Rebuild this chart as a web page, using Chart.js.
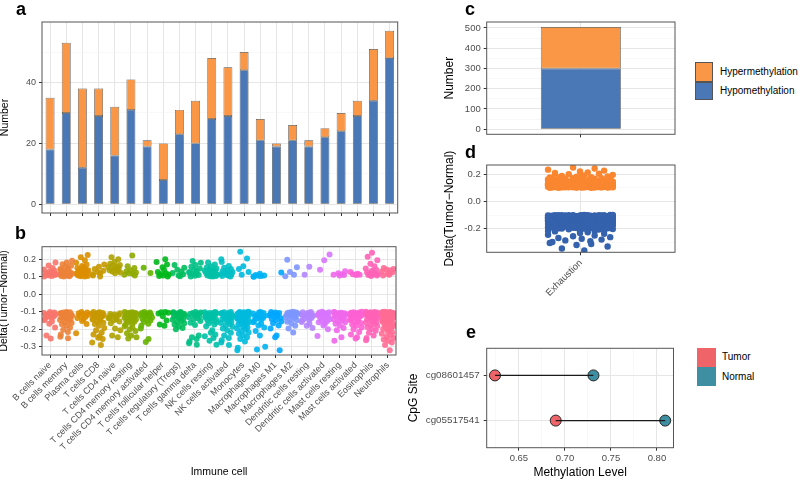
<!DOCTYPE html>
<html>
<head>
<meta charset="utf-8">
<script src="https://cdn.jsdelivr.net/npm/chart.js@4.4.1/dist/chart.umd.min.js"></script>
<style>
  body { margin: 0; background: #fff; font-family: 'Liberation Sans', Arial, sans-serif; }
  #wrap { position: relative; width: 800px; height: 480px; overflow: hidden; }
  canvas { position: absolute; }
  .lab { position: absolute; font-weight: bold; font-size: 18px; line-height: 18px; color: #000; }
  .key { position: absolute; box-sizing: border-box; }
  .kt { position: absolute; font-size: 10px; line-height: 12px; color: #000; white-space: nowrap; }
</style>
</head>
<body>
<div id="wrap">
  <canvas id="ca" width="402" height="216" style="left:-2px;top:0"></canvas>
  <canvas id="cb" width="402" height="240" style="left:-2px;top:240px"></canvas>
  <canvas id="cc" width="240" height="140" style="left:440px;top:0"></canvas>
  <canvas id="cd" width="240" height="170" style="left:440px;top:140px"></canvas>
  <canvas id="ce" width="280" height="170" style="left:400px;top:310px"></canvas>

  <div class="lab" style="left:16px;top:0">a</div>
  <div class="lab" style="left:15px;top:224px">b</div>
  <div class="lab" style="left:465px;top:0">c</div>
  <div class="lab" style="left:465px;top:143px">d</div>
  <div class="lab" style="left:466px;top:323px">e</div>

  <div class="key" style="left:695px;top:62px;width:18px;height:19.5px;background:#fa9746;border:0.5px solid #555"></div>
  <div class="key" style="left:695px;top:81.5px;width:18px;height:18.5px;background:#4a77b6;border:0.5px solid #555"></div>
  <div class="kt" style="left:720px;top:66px">Hypermethylation</div>
  <div class="kt" style="left:720px;top:84.7px">Hypomethylation</div>

  <div class="key" style="left:697px;top:348px;width:19px;height:19px;background:#ee6468"></div>
  <div class="key" style="left:697px;top:367px;width:19px;height:19px;background:#3d8fa1"></div>
  <div class="kt" style="left:722px;top:351.3px">Tumor</div>
  <div class="kt" style="left:722px;top:370.7px">Normal</div>
</div>

<script>
// ---- data ----
const cells = ['B cells naive', 'B cells memory', 'Plasma cells', 'T cells CD8', 'T cells CD4 naive',
  'T cells CD4 memory resting', 'T cells CD4 memory activated', 'T cells follicular helper',
  'T cells regulatory (Tregs)', 'T cells gamma delta', 'NK cells resting', 'NK cells activated',
  'Monocytes', 'Macrophages M0', 'Macrophages M1', 'Macrophages M2', 'Dendritic cells resting',
  'Dendritic cells activated', 'Mast cells resting', 'Mast cells activated', 'Eosinophils', 'Neutrophils'];
const hypoCount  = [18, 30, 12, 29, 16, 31, 19,  8, 23, 20, 28, 29, 44, 21, 19, 21, 19, 22, 24, 29, 34, 48];
const hyperCount = [17, 23, 26,  9, 16, 10,  2, 12,  8, 14, 20, 16,  6,  7,  1,  5,  2,  3,  6,  5, 17,  9];

// panel b: delta values (x1000), hyper are positive, hypo are negative
const bHyper = [
  [102,105,108,110,112,114,116,118,121,124,127,131,135,142,150,165,182],
  [101,103,105,107,109,111,113,115,117,119,122,125,128,131,135,139,144,150,156,163,172,182,192],
  [101,103,105,107,109,111,113,115,117,119,121,124,127,130,133,137,141,145,150,156,162,170,180,195,212,225],
  [102,108,114,120,127,135,145,158,170],
  [120,125,130,134,138,142,146,150,154,158,163,168,175,185,200,212],
  [108,112,116,120,125,130,137,150,160,222],
  [122,152],
  [102,105,108,111,115,120,128,140,155,170,185,200],
  [103,108,114,122,130,140,152,168],
  [102,106,110,114,118,122,127,133,140,148,158,168,180,190],
  [101,103,105,108,110,112,115,118,121,124,127,130,134,138,142,147,153,160,170,182],
  [101,104,107,110,113,116,120,124,128,133,138,145,152,162,185,200],
  [112,128,145,160,205,243],
  [100,102,104,106,108,110,118],
  [125],
  [103,112,128,155,198],
  [112,158],
  [140,195,228],
  [108,110,112,115,120,132],
  [110,112,115,118,128],
  [105,108,110,112,114,117,120,124,128,133,140,148,160,175,195,215,238],
  [108,112,118,124,130,136,142,145,150]
];
const bHypo = [
  [101,104,107,110,113,116,119,122,126,130,135,141,148,156,168,190,235,252],
  [101,102,104,106,108,110,112,114,116,118,120,123,126,129,132,135,139,143,147,152,158,164,171,180,190,202,215,230,242,251],
  [101,104,108,112,117,122,128,135,143,152,170,222],
  [101,103,105,107,110,112,115,118,121,124,127,131,135,139,144,149,155,162,170,180,192,205,218,230,240,248,255,275,290],
  [108,112,116,120,124,128,132,137,142,148,155,165,195,205,235,245],
  [101,103,105,107,109,111,113,115,118,121,124,127,130,133,136,140,144,148,152,157,162,168,175,182,190,200,210,222,235,245,252],
  [101,104,107,110,113,116,120,124,128,133,138,144,150,158,168,180,195,255,272],
  [101,103,106,110,125,150,172,180],
  [101,103,105,107,109,111,113,115,118,121,124,128,132,136,141,146,152,158,165,172,182,192,200],
  [101,104,107,110,113,117,121,126,131,137,144,152,162,175,235,245,255,270,280,288],
  [101,103,105,107,109,112,115,118,121,124,127,131,135,139,143,148,153,158,165,172,182,205,220,230,240,250,265,288],
  [101,103,105,107,110,113,116,119,122,126,130,134,138,143,148,153,158,164,170,178,186,195,205,220,235,250,262,275,290],
  [100,101,102,103,105,106,108,110,112,114,116,118,120,122,124,126,128,131,134,137,140,143,146,149,152,156,160,164,168,173,178,184,190,196,203,210,218,226,235,245,255,270,305,320],
  [101,104,107,110,114,118,122,126,130,135,140,146,152,160,168,178,190,210,235,300,315],
  [101,104,107,110,113,117,121,125,130,135,141,148,156,165,178,195,235,245,320],
  [100,102,104,106,108,110,112,114,117,120,123,127,131,136,142,149,157,167,180,195,218],
  [101,103,106,109,112,115,118,121,124,127,131,135,140,145,150,158,168,180,192],
  [100,102,104,106,108,110,113,116,119,122,125,129,133,137,142,148,154,160,168,178,200,238],
  [101,103,105,107,109,111,114,117,120,123,126,130,134,138,143,148,154,160,168,178,192,205,245,265],
  [100,102,104,106,108,110,112,114,116,118,121,124,127,130,134,138,142,147,152,158,164,172,180,190,200,215,230,245,252],
  [100,101,102,104,105,107,109,111,113,115,117,119,121,124,127,130,133,136,140,144,148,152,157,162,168,174,181,189,198,208,220,235,250,262],
  [100,101,102,103,104,105,106,108,110,111,113,115,117,119,121,123,125,127,130,133,136,139,142,145,148,151,155,159,163,167,171,176,181,186,192,198,204,211,218,226,234,242,250,258,266,275,290,320]
];

// panel c
const groupName = ['Exhaustion'];
const groupHypo = [300];
const groupHyper = [204];

// panel d: delta values (x1000) for the Exhaustion group
const dHyper = [
  100,100,101,101,102,102,103,103,104,104,105,105,106,106,107,107,108,108,109,109,
  110,110,111,111,112,112,113,113,114,114,115,115,116,116,117,117,118,118,119,119,
  100,101,102,103,104,105,106,107,108,109,110,111,112,113,114,115,116,117,118,119,
  101,103,105,107,109,111,113,115,117,119,121,123,125,127,129,131,133,135,137,139,
  120,121,122,123,124,125,126,127,128,129,130,131,132,133,134,135,136,137,138,139,
  120,122,124,126,128,130,132,134,136,138,140,142,144,146,148,150,152,154,156,158,
  141,143,145,147,149,151,153,155,157,159,161,163,165,167,169,140,145,150,155,160,
  102,104,106,108,112,114,116,118,122,124,126,128,132,134,136,138,142,144,146,148,
  103,107,111,115,119,123,127,131,135,139,143,147,151,155,160,165,170,172,175,178,
  162,166,168,171,174,177,180,183,186,190,194,198,202,207,212,218,225,232,240,248,
  105,115,125,135
];
const dHypo = [
  100,100,101,101,102,102,103,103,104,104,105,105,106,106,107,107,108,108,109,109,
  110,110,111,111,112,112,113,113,114,114,115,115,116,116,117,117,118,118,119,119,
  120,120,121,121,122,122,123,123,124,124,125,125,126,126,127,127,128,128,129,129,
  130,130,131,131,132,132,133,133,134,134,135,135,136,136,137,137,138,138,139,139,
  100,101,102,103,104,105,106,107,108,109,110,111,112,113,114,115,116,117,118,119,
  120,121,122,123,124,125,126,127,128,129,130,131,132,133,134,135,136,137,138,139,
  140,141,142,143,144,145,146,147,148,149,150,151,152,153,154,155,156,157,158,159,
  140,142,144,146,148,150,152,154,156,158,160,162,164,166,168,170,172,174,176,178,
  101,103,105,107,109,111,113,115,117,119,121,123,125,127,129,131,133,135,137,139,
  141,143,145,147,149,151,153,155,157,159,161,163,165,167,169,171,173,175,177,179,
  160,161,163,165,167,169,171,173,175,177,180,182,184,186,188,190,192,194,196,198,
  181,183,185,187,189,191,193,195,197,199,200,202,204,206,208,210,212,214,216,218,
  102,106,110,114,118,122,126,130,134,138,142,146,150,154,158,162,166,170,174,178,
  104,108,112,116,120,124,128,132,136,140,144,148,152,156,160,164,168,172,176,180,
  220,226,232,238,244,250,256,262,268,274,280,286,292,298,305,312,320,330,345,360
];

// panel e
const sites = ['cg05517541', 'cg08601457'];
const tumorLevel = [0.690, 0.624];
const normalLevel = [0.809, 0.731];

// tick values
const aMajor = [0, 20, 40], aMinor = [10, 30, 50];
const bMajor = [-0.3, -0.2, -0.1, 0, 0.1, 0.2], bMinor = [-0.25, -0.15, -0.05, 0.05, 0.15, 0.25];
const cMajor = [0, 100, 200, 300, 400, 500], cMinor = [50, 150, 250, 350, 450];
const dMajor = [-0.2, 0, 0.2], dMinor = [-0.3, -0.1, 0.1];
const eMajor = [0.65, 0.70, 0.75, 0.80], eMinor = [0.625, 0.675, 0.725, 0.775];

// jitter offsets (category units)
const jitter = [-0.36, 0.12, -0.05, 0.31, -0.22, 0.04, 0.37, -0.14, 0.21, -0.30, 0.08, -0.01,
  0.27, -0.38, 0.16, -0.09, 0.34, -0.26, 0.01, 0.24, -0.18, 0.11, -0.33];

// ---- style ----
const HYPER = '#fa9746', HYPO = '#4a77b6';
const D_HYPER = '#fa8630', D_HYPO = '#3562ac';
const TUMOR = '#ee6468', NORMAL = '#3d8fa1';
const MAJOR_GRID = '#e6e6e6', MINOR_GRID = '#f3f3f3', TICK = '#333333';

Chart.defaults.font.family = "'Liberation Sans', Arial, sans-serif";
Chart.defaults.color = '#4d4d4d';
Chart.defaults.animation = false;

// ggplot hue palette (polar LUV)
function hcl(h, c, l) {
  const hr = h * Math.PI / 180;
  const u = c * Math.cos(hr), v = c * Math.sin(hr);
  const Y = Math.pow((l + 16) / 116, 3);
  const xn = 0.95047, yn = 1, zn = 1.08883;
  const den = xn + 15 * yn + 3 * zn;
  const up = u / (13 * l) + 4 * xn / den, vp = v / (13 * l) + 9 * yn / den;
  const X = Y * 9 * up / (4 * vp), Z = Y * (12 - 3 * up - 20 * vp) / (4 * vp);
  const lin = [3.2404542 * X - 1.5371385 * Y - 0.4985314 * Z,
              -0.9692660 * X + 1.8760108 * Y + 0.0415560 * Z,
               0.0556434 * X - 0.2040259 * Y + 1.0572252 * Z];
  const rgb = lin.map(x => {
    x = Math.max(0, Math.min(1, x));
    return Math.round(255 * (x <= 0.0031308 ? 12.92 * x : 1.055 * Math.pow(x, 1 / 2.4) - 0.055));
  });
  return 'rgba(' + rgb.join(',') + ',0.9)';
}
const hues = cells.map((_, i) => hcl(15 + i * 360 / cells.length, 100, 65));

const panelBox = {
  id: 'panelBox',
  afterDraw(chart) {
    const { ctx, chartArea: a } = chart;
    ctx.save();
    ctx.strokeStyle = '#555555';
    ctx.lineWidth = 1;
    ctx.strokeRect(a.left, a.top, a.right - a.left, a.bottom - a.top);
    ctx.restore();
  }
};

function title(text, size, pad) {
  return { display: true, text: text, color: '#000', font: { size: size }, padding: pad };
}

function valueAxis(o) {
  const isMinor = v => !o.major.some(m => Math.abs(m - v) < 1e-9);
  return {
    type: 'linear', position: o.position, min: o.min, max: o.max,
    afterBuildTicks: s => { s.ticks = o.major.concat(o.minor).sort((p, q) => p - q).map(v => ({ value: v })); },
    afterFit: s => {
      if (o.width) s.width = o.width;
      if (o.height) s.height = o.height;
      s.paddingLeft = s.paddingRight = s.paddingTop = s.paddingBottom = 0;
    },
    ticks: { autoSkip: false, padding: o.pad || 3, font: { size: o.size || 9 }, color: '#4d4d4d',
      maxRotation: 0, callback: v => isMinor(v) ? '' : o.fmt(v) },
    grid: {
      color: c => c.tick && isMinor(c.tick.value) ? MINOR_GRID : MAJOR_GRID,
      lineWidth: c => c.tick && isMinor(c.tick.value) ? 0.6 : 1,
      tickColor: c => c.tick && isMinor(c.tick.value) ? 'rgba(0,0,0,0)' : TICK,
      tickLength: 3, tickWidth: 1
    },
    border: { display: false },
    title: o.title
  };
}

function catTicksAxis(o) {
  return {
    type: 'linear', position: 'bottom', min: o.min, max: o.max,
    afterBuildTicks: s => { s.ticks = o.names.map((_, i) => ({ value: i + 1 })); },
    afterFit: s => { s.height = o.height; s.paddingLeft = s.paddingRight = 0; },
    ticks: { autoSkip: false, padding: 2, font: { size: o.size || 9 }, color: '#4d4d4d',
      minRotation: 45, maxRotation: 45, callback: v => o.names[Math.round(v) - 1] },
    grid: { color: MAJOR_GRID, tickColor: TICK, tickLength: 3, tickWidth: 1 },
    border: { display: false },
    title: o.title
  };
}

const fmt1 = v => (v < 0 ? '-' : '') + Math.abs(v).toFixed(1);

// ---- panel a ----
new Chart(document.getElementById('ca'), {
  type: 'bar',
  data: {
    labels: cells,
    datasets: [
      { label: 'Hypomethylation', data: hypoCount, backgroundColor: HYPO },
      { label: 'Hypermethylation', data: hyperCount, backgroundColor: HYPER }
    ].map(d => Object.assign(d, { borderColor: 'rgba(45,45,45,0.85)', borderWidth: 0.7, borderSkipped: false,
      categoryPercentage: 1, barPercentage: 0.55 }))
  },
  options: {
    responsive: false,
    layout: { padding: { left: 0, right: 2.3, top: 22, bottom: 0 } },
    plugins: { legend: { display: false }, tooltip: { enabled: false } },
    scales: {
      x: { type: 'category', stacked: true, offset: true,
        afterFit: s => { s.height = 3; s.paddingLeft = s.paddingRight = 0; },
        ticks: { display: false },
        grid: { offset: false, color: MAJOR_GRID, tickColor: TICK, tickLength: 3 },
        border: { display: false } },
      y: Object.assign(valueAxis({ position: 'left', min: -2.85, max: 59.85, major: aMajor, minor: aMinor,
        fmt: v => String(v), width: 44, title: title('Number', 10.5, { top: 1, bottom: 0 }) }), { stacked: true })
    }
  },
  plugins: [panelBox]
});

// ---- panel b ----
const bSets = cells.map((name, i) => {
  const pts = [];
  bHyper[i].forEach((v, k) => pts.push({ x: i + 1 + jitter[(k + 7 * i) % jitter.length], y: v / 1000 }));
  bHypo[i].forEach((v, k) => pts.push({ x: i + 1 + jitter[(k + 7 * i + 11) % jitter.length], y: -v / 1000 }));
  return { label: name, data: pts, backgroundColor: hues[i], borderWidth: 0, pointRadius: 3 };
});
new Chart(document.getElementById('cb'), {
  type: 'scatter',
  data: { datasets: bSets },
  options: {
    responsive: false,
    layout: { padding: { left: 0, right: 2.3, top: 6.7, bottom: 0 } },
    plugins: { legend: { display: false }, tooltip: { enabled: false } },
    scales: {
      x: catTicksAxis({ min: 0.5, max: 22.5, names: cells, height: 125,
        title: title('Immune cell', 10.5, { top: 0, bottom: 1.7 }) }),
      y: valueAxis({ position: 'left', min: -0.347, max: 0.272, major: bMajor, minor: bMinor,
        fmt: fmt1, width: 44, title: title('Delta(Tumor\u2212Normal)', 10.5, { top: 0, bottom: 0 }) })
    }
  },
  plugins: [panelBox]
});

// ---- panel c ----
new Chart(document.getElementById('cc'), {
  type: 'bar',
  data: {
    labels: groupName,
    datasets: [
      { label: 'Hypomethylation', data: groupHypo, backgroundColor: HYPO },
      { label: 'Hypermethylation', data: groupHyper, backgroundColor: HYPER }
    ].map(d => Object.assign(d, { borderColor: 'rgba(45,45,45,0.85)', borderWidth: 0.7, borderSkipped: false,
      categoryPercentage: 1, barPercentage: 0.425 }))
  },
  options: {
    responsive: false,
    layout: { padding: { left: 0, right: 5, top: 22, bottom: 0 } },
    plugins: { legend: { display: false }, tooltip: { enabled: false } },
    scales: {
      x: { type: 'category', stacked: true, offset: true,
        afterFit: s => { s.height = 5.7; s.paddingLeft = s.paddingRight = 0; },
        ticks: { display: false },
        grid: { offset: false, color: MAJOR_GRID, tickColor: TICK, tickLength: 3 },
        border: { display: false } },
      y: Object.assign(valueAxis({ position: 'left', min: -25.2, max: 529.2, major: cMajor, minor: cMinor,
        fmt: v => String(v), width: 46.7, size: 9.5, title: title('Number', 12, { top: 2.5, bottom: 0 }) }), { stacked: true })
    }
  },
  plugins: [panelBox]
});

// ---- panel d ----
const dSpread = 0.55;
new Chart(document.getElementById('cd'), {
  type: 'scatter',
  data: {
    datasets: [
      { label: 'Hypermethylation', backgroundColor: D_HYPER,
        data: dHyper.map((v, k) => ({ x: 1 + dSpread * jitter[k % jitter.length], y: v / 1000 })) },
      { label: 'Hypomethylation', backgroundColor: D_HYPO,
        data: dHypo.map((v, k) => ({ x: 1 + dSpread * jitter[(k + 5) % jitter.length], y: -v / 1000 })) }
    ].map(d => Object.assign(d, { pointRadius: 3.2, borderWidth: 0 }))
  },
  options: {
    responsive: false,
    layout: { padding: { left: 0, right: 5, top: 25, bottom: 0 } },
    plugins: { legend: { display: false }, tooltip: { enabled: false } },
    scales: {
      x: catTicksAxis({ min: 0.4, max: 1.6, names: groupName, height: 57.7, size: 9.5 }),
      y: valueAxis({ position: 'left', min: -0.373, max: 0.266, major: dMajor, minor: dMinor,
        fmt: fmt1, width: 46.7, size: 9.5, title: title('Delta(Tumor\u2212Normal)', 12, { top: 2.5, bottom: 0 }) })
    }
  },
  plugins: [panelBox]
});

// ---- panel e ----
const eSets = sites.map((s, i) => ({
  type: 'line', label: s, data: [{ x: tumorLevel[i], y: i + 1 }, { x: normalLevel[i], y: i + 1 }],
  borderColor: '#1a1a1a', borderWidth: 1.3, pointRadius: 0
}));
eSets.push({ type: 'scatter', label: 'Tumor', data: tumorLevel.map((v, i) => ({ x: v, y: i + 1 })),
  backgroundColor: TUMOR, borderColor: '#222', borderWidth: 1, pointRadius: 5.5 });
eSets.push({ type: 'scatter', label: 'Normal', data: normalLevel.map((v, i) => ({ x: v, y: i + 1 })),
  backgroundColor: NORMAL, borderColor: '#222', borderWidth: 1, pointRadius: 5.5 });

const eX = valueAxis({ position: 'bottom', min: 0.615, max: 0.818, major: eMajor, minor: eMinor,
  fmt: v => v.toFixed(2), height: 32.3, size: 9.5, pad: 2,
  title: title('Methylation Level', 12, { top: 0, bottom: 0 }) });
const eY = valueAxis({ position: 'left', min: 0.4, max: 2.6, major: [1, 2], minor: [],
  fmt: v => sites[Math.round(v) - 1], width: 86.7, size: 9.8, pad: 4,
  title: title('CpG Site', 12, { top: 6.7, bottom: 0 }) });

new Chart(document.getElementById('ce'), {
  type: 'scatter',
  data: { datasets: eSets },
  options: {
    responsive: false,
    layout: { padding: { left: 0, right: 5, top: 38.3, bottom: 0 } },
    plugins: { legend: { display: false }, tooltip: { enabled: false } },
    scales: { x: eX, y: eY }
  },
  plugins: [panelBox]
});
</script>
</body>
</html>
